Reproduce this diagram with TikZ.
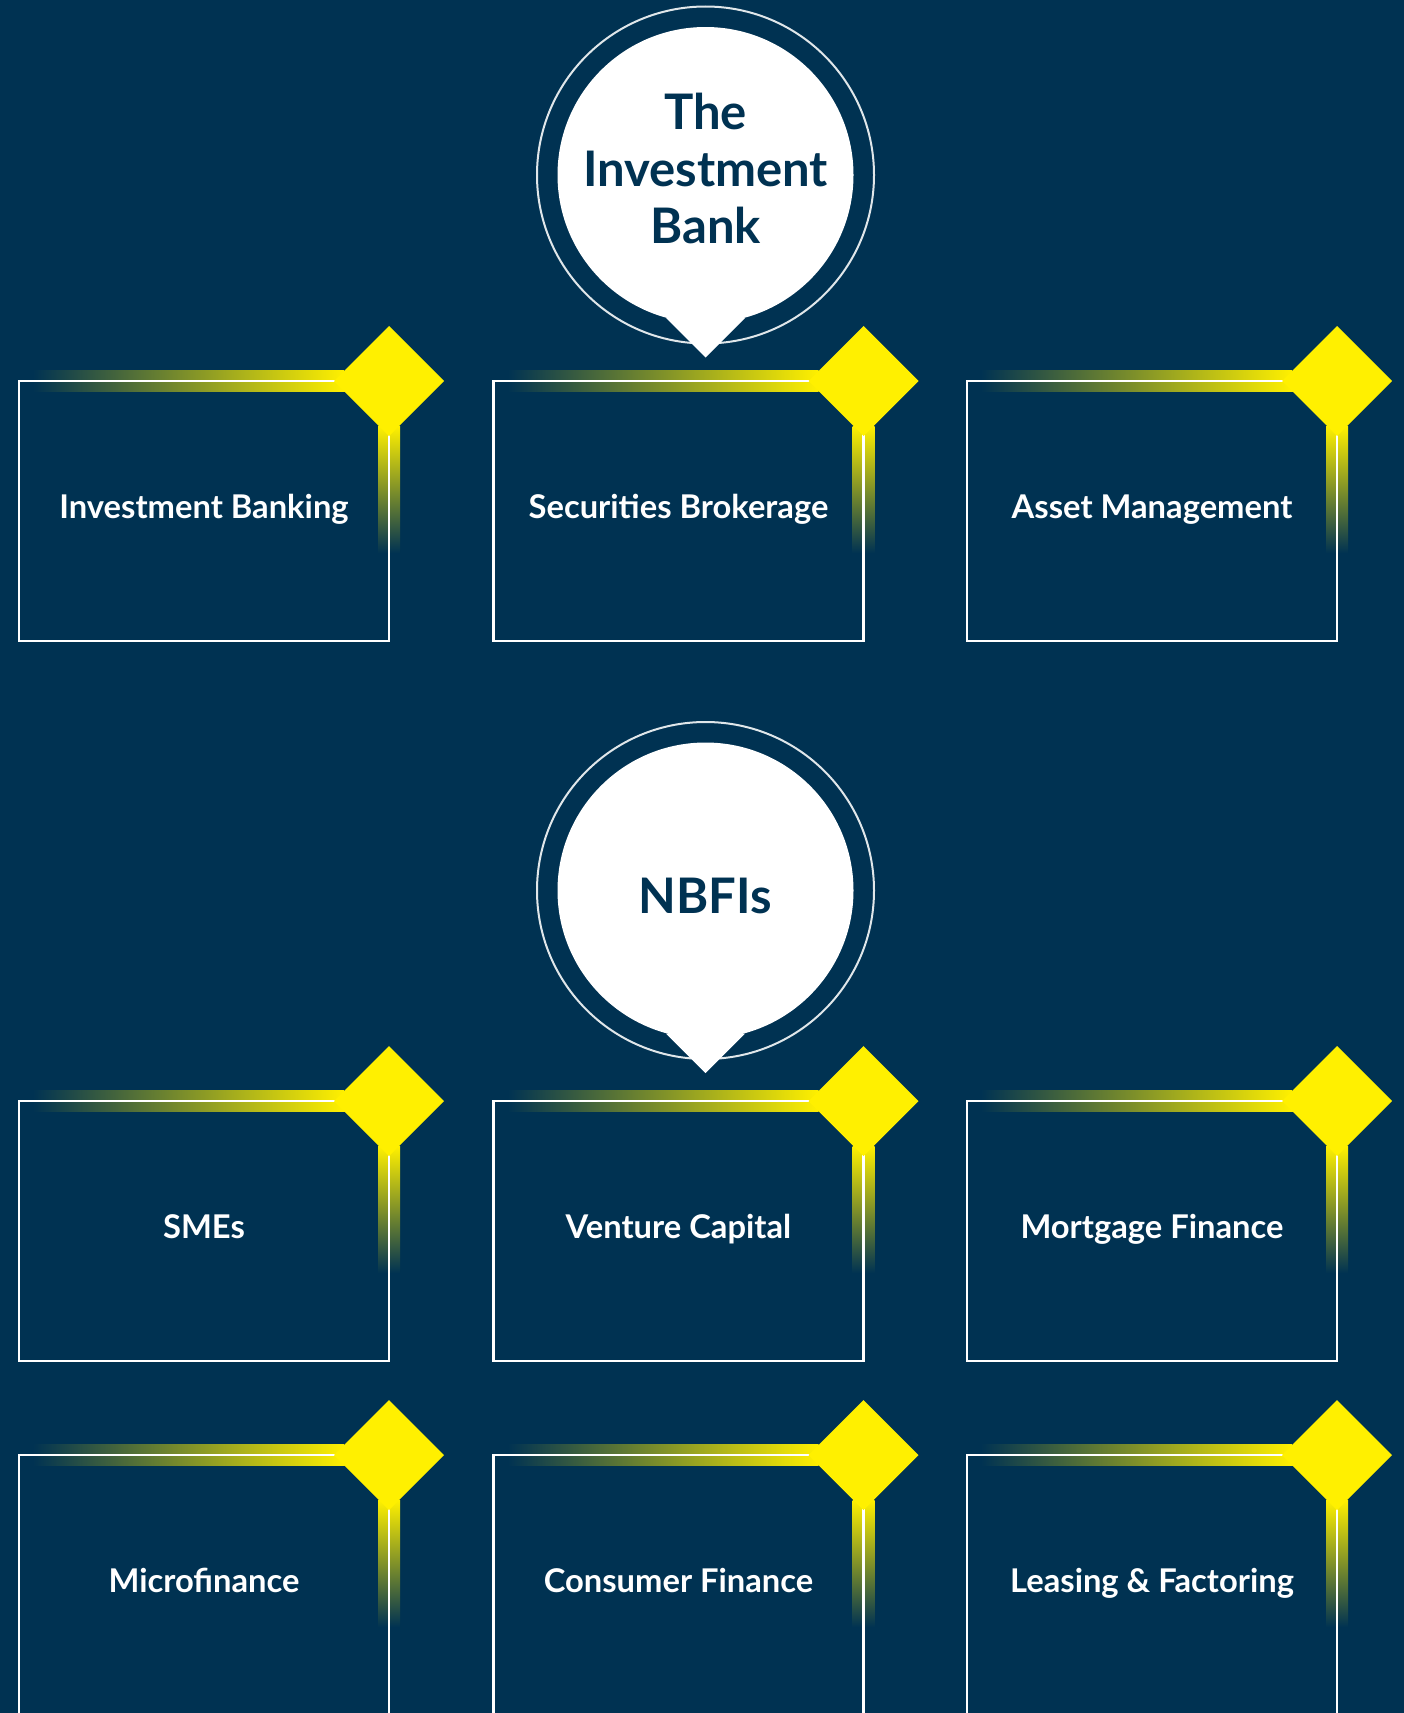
\documentclass[tikz,border=0pt]{standalone}
\usepackage{fontspec}
\setmainfont{Lato}
\usepackage{tikz}

\definecolor{navy}{RGB}{0,50,82}
\definecolor{lemon}{RGB}{255,240,0}

\tikzset{
  card/.style={draw=white, line width=2.2pt, inner sep=0pt,
    minimum width=370pt, minimum height=260pt,
    text=white, text height=24pt, text depth=10pt,
    font=\bfseries\fontsize{32.7}{38}\selectfont},
  bubbletext/.style={text=navy, align=center,
    font=\bfseries\fontsize{49}{57}\selectfont},
}

\begin{document}
\begin{tikzpicture}[x=1pt,y=-1pt]
  \fill[navy] (0,0) rectangle (1404,1713);
  \useasboundingbox (0,0) rectangle (1404,1713);

  % speech bubbles
  \foreach \cy/\ty/\name/\label in {175/168/bank/{The\\Investment\\Bank}, 890.5/895.5/nbfi/NBFIs} {
    \draw[white!88!navy, line width=2pt] (705.5,\cy) circle (168.5);
    \fill[white] (705.5,\cy) circle (148);
    \fill[white] (666,{\cy+143}) -- (705.5,{\cy+182.5}) -- (745,{\cy+143}) -- cycle;
    \node[bubbletext] (\name) at (705.5,\ty) {\label};
  }

  % cards with the glowing corner
  \foreach \cx/\top/\name/\label in {
      204/381/ib/Investment Banking, 678.5/381/sb/Securities Brokerage, 1152/381/am/Asset Management,
      204/1101/sme/SMEs, 678.5/1101/vc/Venture Capital, 1152/1101/mort/Mortgage Finance,
      204/1455/micro/Microfinance, 678.5/1455/cons/Consumer Finance, 1152/1455/lease/Leasing \& Factoring} {
    \shade[left color=navy, right color=lemon] ({\cx-171},{\top-10.5}) rectangle ({\cx+140},{\top+10.5});
    \fill[lemon] ({\cx+140},{\top-10.5}) rectangle ({\cx+180},{\top+10.5});
    \shade[top color=lemon, bottom color=navy] ({\cx+174},{\top+45}) rectangle ({\cx+196},{\top+172});
    \node[card] (\name) at (\cx,{\top+130}) {\label};
    \fill[lemon] ({\cx+185},{\top-55}) -- ++(55,55) -- ++(-55,55) -- ++(-55,-55) -- cycle;
  }
\end{tikzpicture}
\end{document}
